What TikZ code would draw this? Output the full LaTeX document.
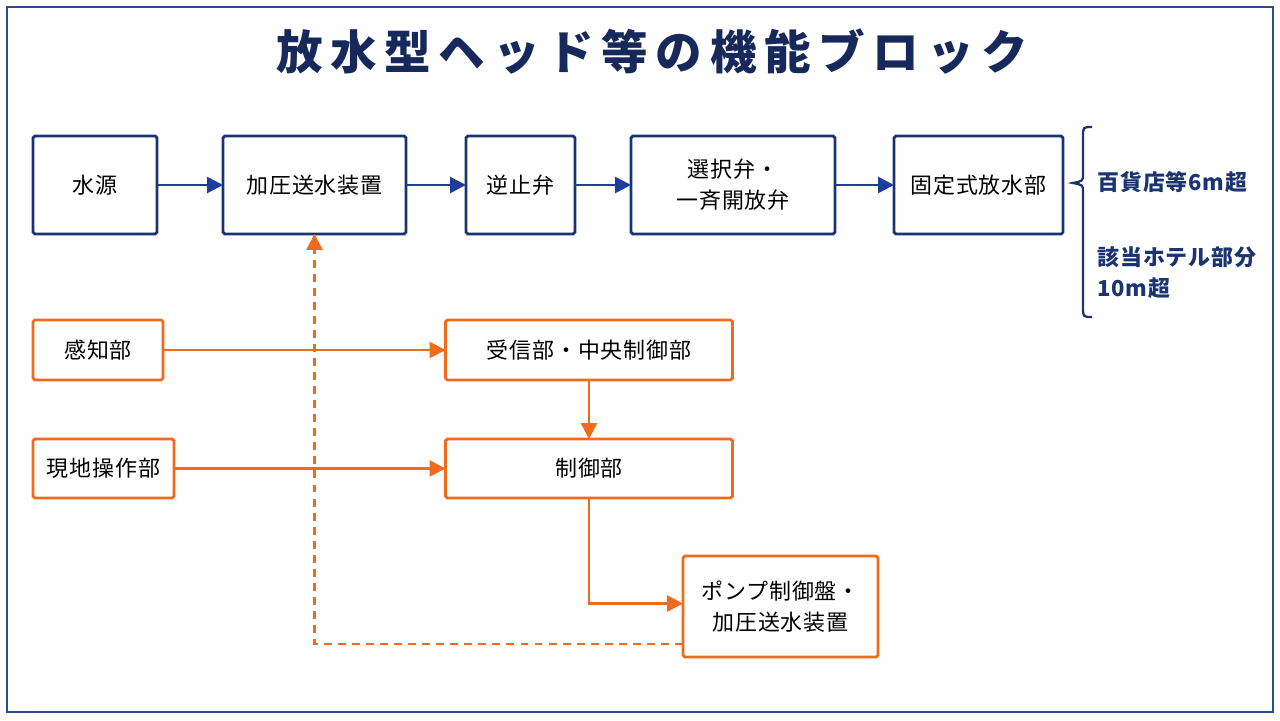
\documentclass[tikz,border=0pt]{standalone}
\usepackage{fontspec}
\setmainfont{Noto Sans CJK JP}
\usetikzlibrary{arrows.meta,calc}
\definecolor{navy}{HTML}{1B3470}
\definecolor{arrowblue}{HTML}{1F3E9C}
\definecolor{titlenavy}{HTML}{17285A}
\definecolor{fireorange}{HTML}{F26A1B}
\definecolor{framenavy}{HTML}{2C4C92}
\tikzset{
  boxtext/.style={font=\fontsize{12.5}{17.5}\selectfont\addfontfeature{LetterSpace=4}, align=center, inner sep=0pt, outer sep=0pt},
  bluebox/.style={boxtext, draw=navy, line width=1.6pt, rounded corners=1pt, minimum height=1.96cm},
  orangebox/.style={boxtext, draw=fireorange, line width=1.6pt, rounded corners=1pt, minimum height=1.2cm},
  bluearrow/.style={draw=arrowblue, line width=1.5pt, -{Triangle[length=9pt,width=9pt]}},
  orangearrow/.style={draw=fireorange, line width=1.5pt, -{Triangle[length=9pt,width=9pt]}},
  notetext/.style={font=\fontsize{12.5}{17.5}\selectfont\bfseries\addfontfeature{LetterSpace=4}, text=navy, inner sep=0pt, align=left}
}
\begin{document}
\begin{tikzpicture}[x=0.02cm, y=-0.02cm]
        \useasboundingbox (0, 0) rectangle (1280, 720);
        % frame
        \draw[framenavy, line width=1pt] (7, 7) rectangle (1273, 712);
        % title
        \node[text=titlenavy, font=\fontsize{26.5}{30}\selectfont\bfseries\addfontfeature{LetterSpace=16.5}] (title) at (652, 52) {放水型ヘッド等の機能ブロック};
        % water line
        \node[bluebox, minimum width=2.48cm] (suigen) at (95, 185) {水源};
        \node[bluebox, minimum width=3.66cm] (kaatsu) at (314.5, 185) {加圧送水装置};
        \node[bluebox, minimum width=2.18cm] (gyakushi) at (520.5, 185) {逆止弁};
        \node[bluebox, minimum width=4.08cm] (sentaku) at (733, 185) {選択弁・\\一斉開放弁};
        \node[bluebox, minimum width=3.38cm] (houshui) at (978.5, 185) {固定式放水部};
        \draw[bluearrow] (suigen) -- (kaatsu);
        \draw[bluearrow] (kaatsu) -- (gyakushi);
        \draw[bluearrow] (gyakushi) -- (sentaku);
        \draw[bluearrow] (sentaku) -- (houshui);
        % brace
        \draw[navy, line width=1.3pt] (1092, 127) .. controls (1083, 127) .. (1083, 137) -- (1083, 174) .. controls (1083, 181) .. (1073, 183) .. controls (1083, 185) .. (1083, 192) -- (1083, 307) .. controls (1083, 317) .. (1092, 317);
        \node[notetext, anchor=west] (depart) at (1097, 182) {百貨店等6m超};
        \node[notetext, anchor=west] (hotel) at (1097, 273) {該当ホテル部分\\10m超};
        % control line
        \node[orangebox, minimum width=2.6cm] (kanchi) at (98, 350) {感知部};
        \node[orangebox, minimum width=2.82cm, minimum height=1.18cm] (genchi) at (103.5, 468.5) {現地操作部};
        \node[orangebox, minimum width=5.74cm] (jushin) at (589, 350) {受信部・中央制御部};
        \node[orangebox, minimum width=5.74cm, minimum height=1.18cm] (seigyo) at (589, 468.5) {制御部};
        \node[orangebox, minimum width=3.9cm, minimum height=2.02cm] (pump) at (780.5, 606.5) {ポンプ制御盤・\\加圧送水装置};
        \draw[orangearrow] (kanchi) -- (jushin);
        \draw[orangearrow] (genchi.east) -- (genchi.east -| jushin.west);
        \draw[orangearrow] (jushin) -- (seigyo);
        \draw[orangearrow] (seigyo.south) |- ($(pump.west)+(0, -3)$);
        \draw[orangearrow, dash pattern=on 4.5pt off 3.5pt] ($(pump.south west)+(0, -13)$) -| (kaatsu.south);
      \end{tikzpicture}
\end{document}
